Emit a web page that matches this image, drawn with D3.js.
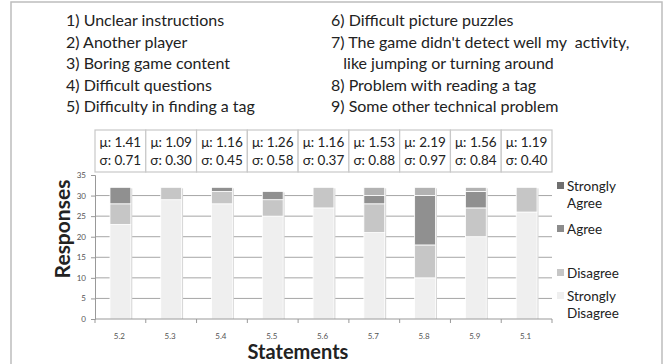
<!DOCTYPE html>
<html lang="en">
<head>
    <meta charset="utf-8"/>
    <script src="https://d3js.org/d3.v7.min.js"></script>
    <style>
        body { margin: 0; background: #fff; }
        svg { font-family: Lato, "Open Sans", sans-serif; }
    </style>
</head>
<body>
<div id="viz">
    <svg width="666" height="364"></svg>
</div>

<script type="text/javascript">

    // categorias y datos (respuestas por nivel)
    const statements = ["5.2", "5.3", "5.4", "5.5", "5.6", "5.7", "5.8", "5.9", "5.1"];
    const stronglyDisagree = [23, 29, 28, 25, 27, 21, 10, 20, 26];
    const disagree = [5, 3, 3, 4, 5, 7, 8, 7, 6];
    const agree = [4, 0, 1, 2, 0, 2, 12, 4, 0];
    const stronglyAgree = [0, 0, 0, 0, 0, 2, 2, 1, 0];
    const means = ["1.41", "1.09", "1.16", "1.26", "1.16", "1.53", "2.19", "1.56", "1.19"];
    const sigmas = ["0.71", "0.30", "0.45", "0.58", "0.37", "0.88", "0.97", "0.84", "0.40"];
    const yTicks = [0, 5, 10, 15, 20, 25, 30, 35];

    const levels = ["Strongly Disagree", "Disagree", "Agree", "Strongly Agree"];
    const reasonsLeft = ["1) Unclear instructions", "2) Another player", "3) Boring game content",
        "4) Difficult questions", "5) Difficulty in finding a tag"];
    const reasonsRight = ["6) Difficult picture puzzles", "7) The game didn't detect well my  activity,",
        "   like jumping or turning around", "8) Problem with reading a tag", "9) Some other technical problem"];

    // colores: barras y leyenda
    const barColor = {"Strongly Disagree": "#efefef", "Disagree": "#c6c6c6", "Agree": "#909090", "Strongly Agree": "#b2b2b2"};
    const legendColor = {"Strongly Disagree": "#efefef", "Disagree": "#c6c6c6", "Agree": "#8c8c8c", "Strongly Agree": "#6f6f6f"};

    const svg = d3.select("svg");

    // marco exterior
    svg.append("rect")
        .attr("x", 11).attr("y", 2).attr("width", 651).attr("height", 380)
        .attr("fill", "none").attr("stroke", "#bdbdbd").attr("stroke-width", 1.5);

    // lista de razones
    const listLeft = svg.append("g").style("font-size", "16px").style("fill", "#222");
    listLeft.selectAll("text").data(reasonsLeft).enter().append("text")
        .attr("x", 66).attr("y", (d, i) => 26 + i * 21.5)
        .text(d => d);
    const listRight = svg.append("g").style("font-size", "16px").style("fill", "#222");
    listRight.selectAll("text").data(reasonsRight).enter().append("text")
        .attr("x", 331).attr("y", (d, i) => 26 + i * 21.5)
        .attr("xml:space", "preserve")
        .text(d => d);

    // escalas
    const x = d3.scaleBand().domain(statements).range([95, 552]).paddingInner(0).paddingOuter(0);
    const y = d3.scaleLinear().domain([0, 35]).range([319, 175]);

    // grilla
    svg.append("g")
        .selectAll("line").data(yTicks.filter(d => d > 0 && d < 35)).enter().append("line")
        .attr("x1", 95).attr("x2", 552)
        .attr("y1", d => y(d)).attr("y2", d => y(d))
        .attr("stroke", "#a6a6a6").attr("stroke-width", 1);

    // eje y
    const yAxis = d3.axisLeft(y).tickValues(yTicks).tickSize(4).tickPadding(5);
    const gy = svg.append("g").attr("transform", "translate(95,0)").call(yAxis);
    gy.select(".domain").attr("stroke", "#999");
    gy.selectAll(".tick line").attr("stroke", "#999");
    gy.selectAll("text").style("font-size", "8px").style("fill", "#555")
        .style("font-family", "Lato, sans-serif");

    // datos apilados
    const table = statements.map((s, i) => ({
        statement: s,
        "Strongly Disagree": stronglyDisagree[i],
        "Disagree": disagree[i],
        "Agree": agree[i],
        "Strongly Agree": stronglyAgree[i]
    }));
    const series = d3.stack().keys(levels)(table);

    const barW = x.bandwidth() * 0.41;
    const barOff = (x.bandwidth() - barW) / 2;

    // sombra ligera
    svg.append("g").selectAll("rect").data(table).enter().append("rect")
        .attr("x", d => x(d.statement) + barOff + 1.5)
        .attr("y", d => y(d3.sum(levels, k => d[k])) + 1)
        .attr("width", barW)
        .attr("height", d => y(0) - y(d3.sum(levels, k => d[k])) - 1)
        .attr("fill", "#d8d8d8");

    svg.append("g").selectAll("g").data(series).enter().append("g")
        .attr("fill", d => barColor[d.key])
        .selectAll("rect").data(d => d.filter(p => p[1] > p[0])).enter().append("rect")
        .attr("x", d => x(d.data.statement) + barOff)
        .attr("y", d => y(d[1]))
        .attr("width", barW)
        .attr("height", d => y(d[0]) - y(d[1]))
        .attr("stroke", "#fff").attr("stroke-width", 0.8);

    // eje x
    const gx = svg.append("g").attr("transform", "translate(0,319)");
    gx.append("line").attr("x1", 95).attr("x2", 552).attr("stroke", "#999");
    gx.selectAll("line.tk").data(d3.range(statements.length + 1)).enter().append("line")
        .attr("class", "tk")
        .attr("x1", i => 95 + i * x.step()).attr("x2", i => 95 + i * x.step())
        .attr("y1", 0).attr("y2", 4).attr("stroke", "#999");
    gx.selectAll("text").data(statements).enter().append("text")
        .attr("x", d => x(d) + x.bandwidth() / 2 - 1)
        .attr("y", 20)
        .attr("text-anchor", "middle")
        .style("font-size", "8px").style("fill", "#555")
        .text(d => d);

    // cuadros de media y desviación
    const boxes = svg.append("g");
    boxes.selectAll("rect").data(statements).enter().append("rect")
        .attr("x", d => x(d)).attr("y", 130)
        .attr("width", x.step()).attr("height", 42)
        .attr("fill", "#fff").attr("stroke", "#c8c8c8").attr("stroke-width", 1.2);
    boxes.selectAll("text.mu").data(statements).enter().append("text")
        .attr("class", "mu")
        .attr("x", d => x(d) + x.bandwidth() / 2).attr("y", 147)
        .attr("text-anchor", "middle")
        .style("font-size", "13.5px").style("fill", "#222")
        .text((d, i) => "\u03bc: " + means[i]);
    boxes.selectAll("text.sg").data(statements).enter().append("text")
        .attr("class", "sg")
        .attr("x", d => x(d) + x.bandwidth() / 2).attr("y", 165)
        .attr("text-anchor", "middle")
        .style("font-size", "13.5px").style("fill", "#222")
        .text((d, i) => "\u03c3: " + sigmas[i]);

    // leyenda
    const legendItems = [
        {key: "Strongly Agree", lines: ["Strongly", "Agree"], yy: 186},
        {key: "Agree", lines: ["Agree"], yy: 229},
        {key: "Disagree", lines: ["Disagree"], yy: 273},
        {key: "Strongly Disagree", lines: ["Strongly", "Disagree"], yy: 296}
    ];
    const lg = svg.append("g");
    const li = lg.selectAll("g").data(legendItems).enter().append("g");
    li.append("rect")
        .attr("x", 557).attr("y", d => d.yy - 4)
        .attr("width", 7).attr("height", 7)
        .attr("fill", d => legendColor[d.key]);
    li.append("text")
        .attr("x", 567).attr("y", d => d.yy + 5)
        .style("font-size", "13.5px").style("fill", "#222")
        .selectAll("tspan").data(d => d.lines).enter().append("tspan")
        .attr("x", 567).attr("dy", (d, i) => i === 0 ? 0 : 17)
        .text(d => d);

    // títulos de ejes
    svg.append("text")
        .attr("transform", "translate(70,229) rotate(-90)")
        .attr("text-anchor", "middle")
        .style("font-size", "21px").style("font-weight", "bold").style("fill", "#222")
        .text("Responses");
    svg.append("text")
        .attr("x", 298).attr("y", 359)
        .attr("text-anchor", "middle")
        .style("font-size", "20px").style("font-weight", "bold").style("fill", "#222")
        .text("Statements");

</script>
</body>
</html>
